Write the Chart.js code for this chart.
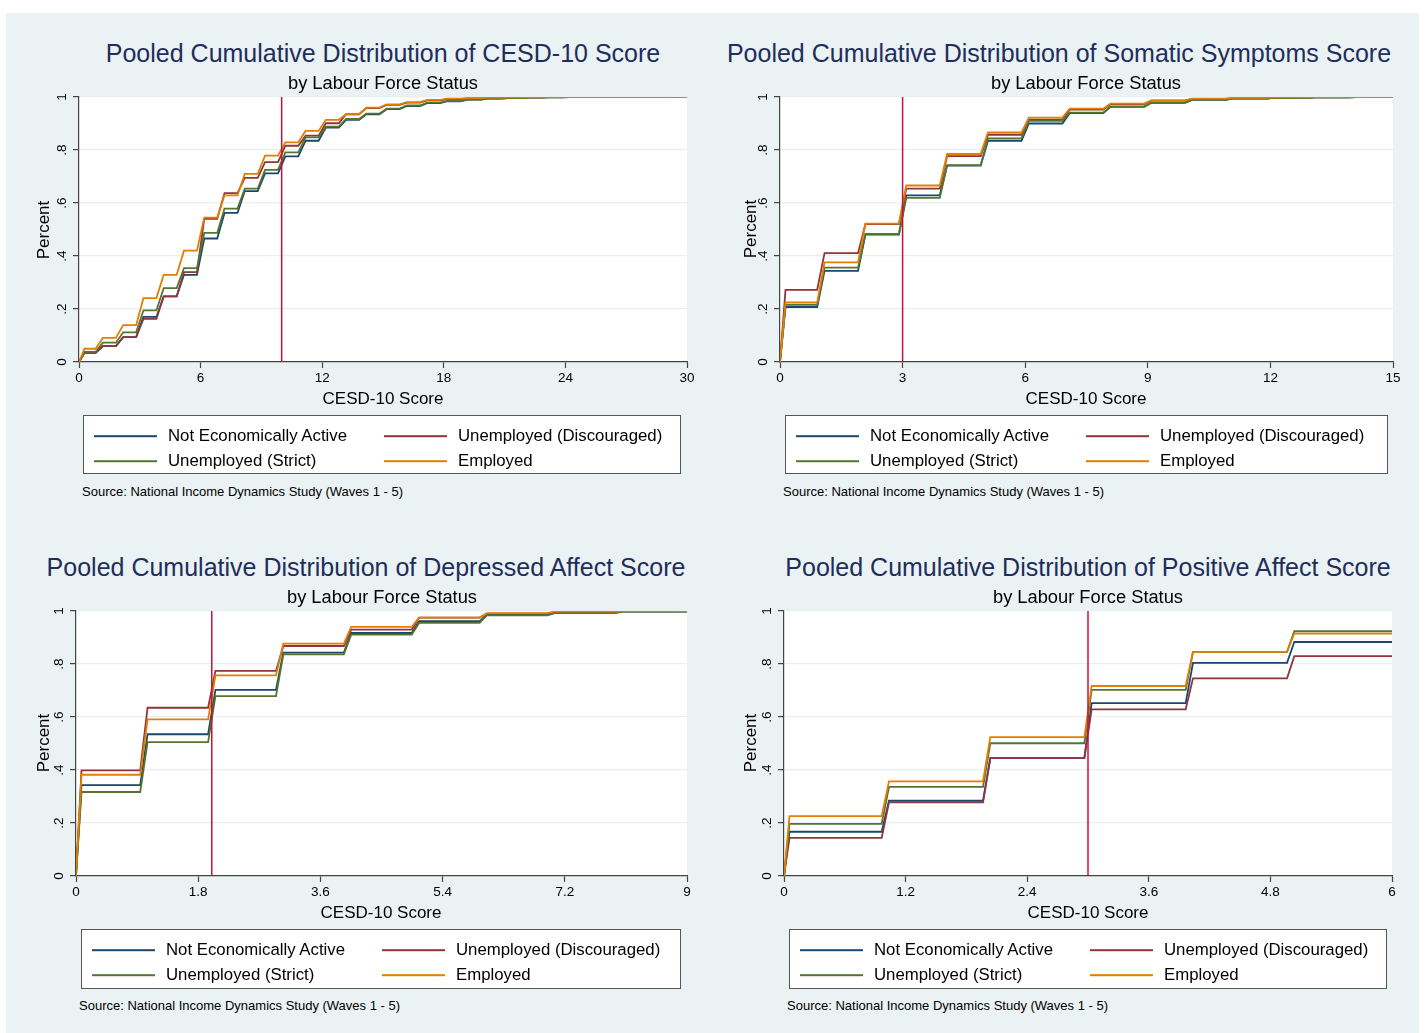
<!DOCTYPE html>
<html>
<head>
<meta charset="utf-8">
<script src="https://cdn.jsdelivr.net/npm/chart.js@4.4.1/dist/chart.umd.min.js"></script>
<style>
  body { margin: 0; width: 1425px; height: 1033px; overflow: hidden; background: #fff; font-family: "Liberation Sans", Arial, sans-serif; }
  #fondo { position: absolute; left: 6px; top: 13px; width: 1413px; height: 1020px; background: #eaf2f3; }
  .txt { position: absolute; white-space: nowrap; line-height: 1; transform: translate(-50%, -50%); color: #000; }
  .titulo { font-size: 25px; color: #1f2d5c; }
  .sub { font-size: 18.3px; }
  .eje { font-size: 17px; }
  .vertical { transform: translate(-50%, -50%) rotate(-90deg); }
  .leyenda { position: absolute; background: #fff; border: 1px solid #555; box-sizing: border-box; }
  .item { position: absolute; font-size: 16.8px; line-height: 1; white-space: nowrap; transform: translateY(-50%); }
  .muestra { position: absolute; height: 1.6px; width: 63px; transform: translateY(-50%); }
  .fuente { position: absolute; font-size: 13px; line-height: 1; white-space: nowrap; transform: translateY(-50%); }
  canvas { position: absolute; }
</style>
</head>
<body>
<div id="fondo"></div>
<script>
// Grupos y ejes comunes
const grupos = ["Not Economically Active", "Unemployed (Discouraged)", "Unemployed (Strict)", "Employed"];
const ticksY = [0, 0.2, 0.4, 0.6, 0.8, 1];
const etiquetasY = ["0", ".2", ".4", ".6", ".8", "1"];

// CESD-10 (valores acumulados por puntaje 0..29)
const cesdTicksX = [0, 6, 12, 18, 24, 30];
const cesdNoActivo = [.035, .06, .094, .17, .248, .329, .466, .5625, .645, .712, .776, .835, .885, .914, .935, .954, .966, .977, .984, .99, .994, .996, .998, .999, 1, 1, 1, 1, 1, 1];
const cesdDesalentado = [.035, .06, .094, .163, .248, .339, .54, .637, .695, .754, .816, .854, .901, .935, .958, .97, .979, .987, .992, .995, .997, .998, .999, 1, 1, 1, 1, 1, 1, 1];
const cesdEstricto = [.038, .073, .112, .195, .279, .354, .487, .579, .654, .725, .791, .848, .888, .917, .937, .956, .968, .979, .985, .99, .994, .996, .998, .999, 1, 1, 1, 1, 1, 1];
const cesdEmpleado = [.05, .091, .139, .241, .329, .42, .545, .629, .71, .779, .829, .872, .914, .935, .96, .972, .981, .989, .994, .996, .998, .999, .999, 1, 1, 1, 1, 1, 1, 1];

// Síntomas somáticos (0..14)
const somTicksX = [0, 3, 6, 9, 12, 15];
const somNoActivo = [.2075, .344, .481, .629, .741, .835, .90, .939, .963, .978, .989, .994, .997, .999, 1];
const somDesalentado = [.2725, .411, .52, .654, .777, .8575, .915, .952, .973, .986, .993, .996, .998, .999, 1];
const somEstricto = [.216, .356, .483, .619, .743, .844, .91, .941, .965, .979, .99, .994, .997, .999, 1];
const somEmpleado = [.225, .376, .522, .666, .785, .866, .9225, .956, .975, .9875, .994, .997, .999, 1, 1];

// Afecto depresivo (0..8)
const depTicksX = [0, 1.8, 3.6, 5.4, 7.2, 9];
const depNoActivo = [.343, .535, .702, .843, .917, .962, .986, .994, .998];
const depDesalentado = [.3985, .635, .774, .868, .93, .975, .99, .997, 1];
const depEstricto = [.317, .505, .679, .836, .911, .955, .984, .992, .998];
const depEmpleado = [.382, .591, .757, .877, .94, .975, .992, .998, 1];

// Afecto positivo (0..5)
const posTicksX = [0, 1.2, 2.4, 3.6, 4.8, 6];
const posNoActivo = [.167, .284, .445, .652, .8045, .883];
const posDesalentado = [.144, .278, .445, .629, .746, .8296];
const posEstricto = [.197, .336, .501, .702, .846, .9236];
const posEmpleado = [.2256, .357, .524, .717, .846, .915];

// Puntos de corte (línea vertical)
const cortes = [10, 3, 2, 3];

const colores = ["#1a476f", "#90353b", "#55752f", "#e37e00"];
const colorCorte = "#c8103a";

const paneles = [
  { titulo: "Pooled Cumulative Distribution of CESD-10 Score", ticksX: cesdTicksX, series: [cesdNoActivo, cesdDesalentado, cesdEstricto, cesdEmpleado],
    area: [79, 97, 687, 362], tx: 383, ty: 53, sx: 383, sy: 83, ex: 383, ey: 398, px: 43, py: 230, ley: [83, 415, 598, 59], fx: 82, fy: 491 },
  { titulo: "Pooled Cumulative Distribution of Somatic Symptoms Score", ticksX: somTicksX, series: [somNoActivo, somDesalentado, somEstricto, somEmpleado],
    area: [780, 97, 1393, 362], tx: 1059, ty: 53, sx: 1086, sy: 83, ex: 1086, ey: 398, px: 750, py: 229, ley: [785, 415, 603, 59], fx: 783, fy: 491 },
  { titulo: "Pooled Cumulative Distribution of Depressed Affect Score", ticksX: depTicksX, series: [depNoActivo, depDesalentado, depEstricto, depEmpleado],
    area: [76, 611, 687, 876], tx: 366, ty: 567, sx: 382, sy: 597, ex: 381, ey: 912, px: 43, py: 743, ley: [81, 929, 600, 60], fx: 79, fy: 1005 },
  { titulo: "Pooled Cumulative Distribution of Positive Affect Score", ticksX: posTicksX, series: [posNoActivo, posDesalentado, posEstricto, posEmpleado],
    area: [784, 611, 1392, 876], tx: 1088, ty: 567, sx: 1088, sy: 597, ex: 1088, ey: 912, px: 750, py: 743, ley: [789, 929, 598, 60], fx: 787, fy: 1005 }
];

// Convierte la distribución acumulada en escalones
const escalones = (cdf, xMax) => {
  const d = xMax * 0.006;
  const pts = [{ x: 0, y: 0 }];
  cdf.forEach((v, k) => {
    if (k === 0) {
      pts.push({ x: d * 1.5, y: v });
    } else {
      pts.push({ x: k - d, y: cdf[k - 1] });
      pts.push({ x: k + d, y: v });
    }
  });
  pts.push({ x: xMax, y: cdf[cdf.length - 1] });
  return pts;
};

// Fondo blanco del área de trazado
const fondoBlanco = {
  id: "fondoBlanco",
  beforeDraw(chart) {
    const { ctx, chartArea: a } = chart;
    ctx.save();
    ctx.fillStyle = "#fff";
    ctx.fillRect(a.left, a.top, a.right - a.left, a.bottom - a.top);
    ctx.restore();
  }
};

// Etiquetas del eje Y giradas como en Stata
const etiquetasVerticales = {
  id: "etiquetasVerticales",
  afterDraw(chart) {
    const { ctx, chartArea, scales } = chart;
    ctx.save();
    ctx.font = '13.5px "Liberation Sans", Arial, sans-serif';
    ctx.fillStyle = "#000";
    ctx.textAlign = "center";
    ctx.textBaseline = "middle";
    ticksY.forEach((v, i) => {
      ctx.save();
      ctx.translate(chartArea.left - 16.5, scales.y.getPixelForValue(v));
      ctx.rotate(-Math.PI / 2);
      ctx.fillText(etiquetasY[i], 0, 0);
      ctx.restore();
    });
    ctx.restore();
  }
};

let html = "";
paneles.forEach((p, n) => {
  const [l, t, r, b] = p.area;
  const cv = document.createElement("canvas");
  cv.width = (r - l) + 50;
  cv.height = (b - t) + 40;
  cv.style.left = (l - 40) + "px";
  cv.style.top = (t - 10) + "px";
  document.body.appendChild(cv);

  const xMax = p.ticksX[p.ticksX.length - 1];
  const datasets = p.series.map((s, i) => ({
    label: grupos[i],
    data: escalones(s, xMax),
    borderColor: colores[i],
    borderWidth: 1.8,
    pointRadius: 0,
    tension: 0,
    order: 4 - i
  }));
  datasets.push({
    label: "corte",
    data: [{ x: cortes[n], y: 0 }, { x: cortes[n], y: 1 }],
    borderColor: colorCorte,
    borderWidth: 1.5,
    pointRadius: 0,
    order: 0
  });

  new Chart(cv.getContext("2d"), {
    type: "line",
    data: { datasets },
    options: {
      responsive: false,
      animation: false,
      events: [],
      layout: { padding: { left: 0, top: 10, right: 10, bottom: 0 } },
      plugins: { legend: { display: false }, tooltip: { enabled: false } },
      scales: {
        x: {
          type: "linear", min: 0, max: xMax,
          afterFit: (s) => { s.height = 30; },
          afterBuildTicks: (s) => { s.ticks = p.ticksX.map(v => ({ value: v })); },
          ticks: { color: "#000", padding: 2, maxRotation: 0, font: { family: '"Liberation Sans", Arial, sans-serif', size: 13.5 },
                   callback: (v) => String(Math.round(v * 10) / 10) },
          grid: { display: true, drawOnChartArea: false, drawTicks: true, tickLength: 6, tickColor: "#444", tickWidth: 1.2 },
          border: { color: "#444", width: 1.2 }
        },
        y: {
          type: "linear", min: 0, max: 1,
          afterFit: (s) => { s.width = 40; },
          afterBuildTicks: (s) => { s.ticks = ticksY.map(v => ({ value: v })); },
          ticks: { display: false },
          grid: { color: "#e8eff2", lineWidth: 1.2, drawTicks: true, tickLength: 6, tickColor: "#444", tickWidth: 1.2 },
          border: { color: "#444", width: 1.2 }
        }
      }
    },
    plugins: [fondoBlanco, etiquetasVerticales]
  });

  const [lx, ly, lw, lh] = p.ley;
  html += `
    <div class="txt titulo" style="left:${p.tx}px;top:${p.ty}px">${p.titulo}</div>
    <div class="txt sub" style="left:${p.sx}px;top:${p.sy}px">by Labour Force Status</div>
    <div class="txt eje" style="left:${p.ex}px;top:${p.ey}px">CESD-10 Score</div>
    <div class="txt eje vertical" style="left:${p.px}px;top:${p.py}px">Percent</div>
    <div class="leyenda" style="left:${lx}px;top:${ly}px;width:${lw}px;height:${lh}px">
      <div class="muestra" style="left:10px;top:20px;background:${colores[0]}"></div>
      <div class="item" style="left:84px;top:20px">${grupos[0]}</div>
      <div class="muestra" style="left:300px;top:20px;background:${colores[1]}"></div>
      <div class="item" style="left:374px;top:20px">${grupos[1]}</div>
      <div class="muestra" style="left:10px;top:45px;background:${colores[2]}"></div>
      <div class="item" style="left:84px;top:45px">${grupos[2]}</div>
      <div class="muestra" style="left:300px;top:45px;background:${colores[3]}"></div>
      <div class="item" style="left:374px;top:45px">${grupos[3]}</div>
    </div>
    <div class="fuente" style="left:${p.fx}px;top:${p.fy}px">Source: National Income Dynamics Study (Waves 1 - 5)</div>`;
});
document.body.insertAdjacentHTML("beforeend", html);
</script>
</body>
</html>
